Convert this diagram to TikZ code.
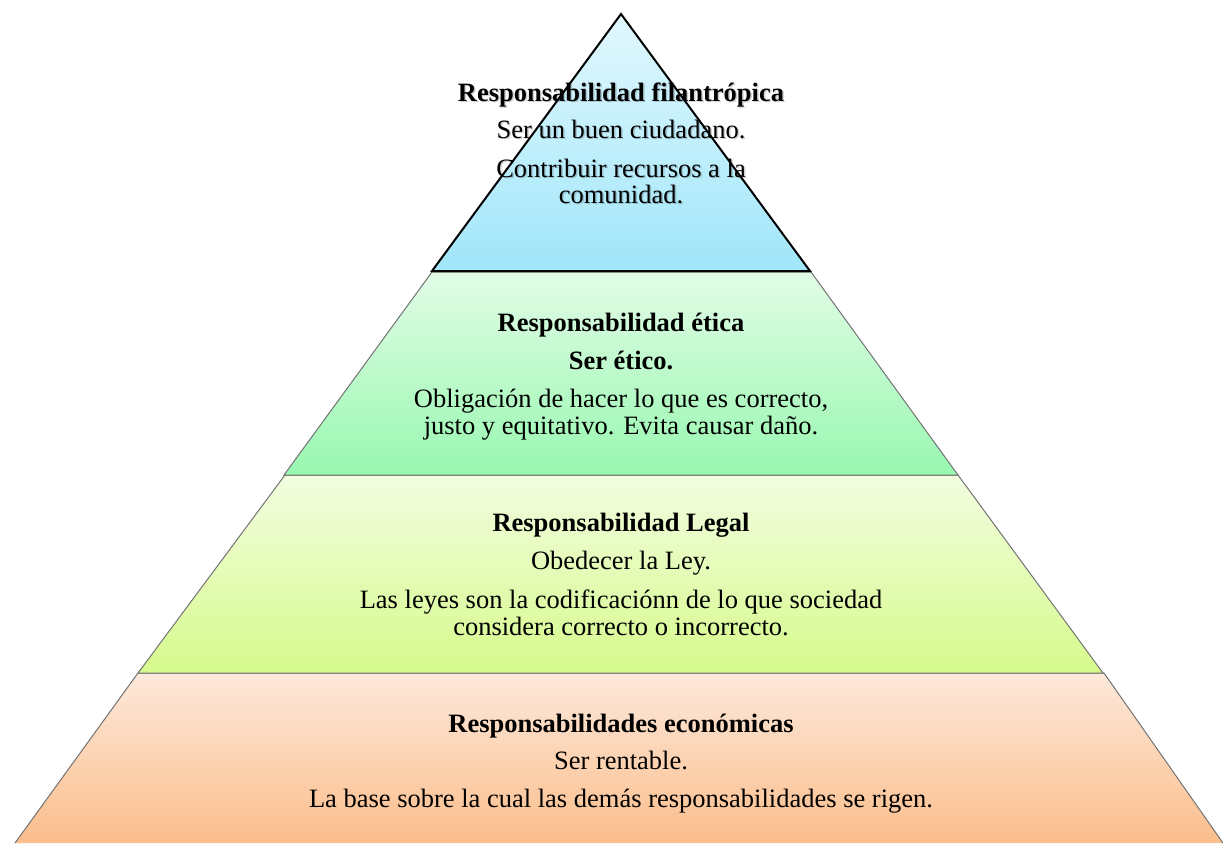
\documentclass[tikz,border=0pt]{standalone}
\usepackage{fontspec}
\setmainfont{Liberation Serif}
\begin{document}
\begin{tikzpicture}[x=1pt,y=-1pt,
  txt/.style={anchor=base,inner sep=0pt,font=\fontsize{26.5}{30}\selectfont,text=black},
  btxt/.style={txt,font=\fontsize{26.5}{30}\selectfont\bfseries},
  shad/.style={text=black,text opacity=0.18,xshift=1.5pt,yshift=-1.5pt},
  bandline/.style={draw=black!55,line width=1pt,line join=miter},
  topline/.style={draw=black,line width=2pt,line join=miter}]
\useasboundingbox (0,0) rectangle (1223,843);
\definecolor{blueT}{HTML}{E2F8FE}\definecolor{blueB}{HTML}{A0E6FA}
\definecolor{greenT}{HTML}{E2FCE6}\definecolor{greenB}{HTML}{98F8B0}
\definecolor{limeT}{HTML}{F2FDE0}\definecolor{limeB}{HTML}{D6FA8C}
\definecolor{peachT}{HTML}{FDE8DA}\definecolor{peachB}{HTML}{FBBE8C}
% bands
\shade[top color=peachT,bottom color=peachB] (138,673) -- (1104,673) -- (1223,843) -- (15,843) -- cycle;
\draw[bandline] (15,843) -- (138,673) -- (1104,673) -- (1223,843);
\shade[top color=limeT,bottom color=limeB] (285,475) -- (958,475) -- (1103,673) -- (138,673) -- cycle;
\draw[bandline] (285,475) -- (958,475) -- (1103,673) -- (138,673) -- cycle;
\shade[top color=greenT,bottom color=greenB] (432,272) -- (811,272) -- (958,475) -- (284,475) -- cycle;
\draw[bandline] (432,272) -- (811,272) -- (958,475) -- (284,475) -- cycle;
\shade[top color=blueT,bottom color=blueB] (621,14) -- (810,271) -- (432,271) -- cycle;
% top texts (with soft shadow)
\node[btxt,shad] (f1s) at (621,101) {Responsabilidad filantrópica};
\node[txt,shad] (f2s) at (621,138) {Ser un buen ciudadano.};
\node[txt,shad] (f3s) at (621,177) {Contribuir recursos a la};
\node[txt,shad] (f4s) at (621,203) {comunidad.};
\node[btxt] (f1) at (621,101) {Responsabilidad filantrópica};
\node[txt] (f2) at (621,138) {Ser un buen ciudadano.};
\node[txt] (f3) at (621,177) {Contribuir recursos a la};
\node[txt] (f4) at (621,203) {comunidad.};
% ethical
\node[btxt] (e1) at (621,331) {Responsabilidad ética};
\node[btxt] (e2) at (621,369) {Ser ético.};
\node[txt] (e3) at (621,407) {Obligación de hacer lo que es correcto,};
\node[txt] (e4) at (621,434) {justo y equitativo. Evita causar daño.};
% legal
\node[btxt] (l1) at (621,531) {Responsabilidad Legal};
\node[txt] (l2) at (621,569) {Obedecer la Ley.};
\node[txt] (l3) at (621,608) {Las leyes son la codificaciónn de lo que sociedad};
\node[txt] (l4) at (621,635) {considera correcto o incorrecto.};
% economic
\node[btxt] (c1) at (621,732) {Responsabilidades económicas};
\node[txt] (c2) at (621,769) {Ser rentable.};
\node[txt] (c3) at (621,807) {La base sobre la cual las demás responsabilidades se rigen.};
% top outline over text
\draw[topline] (621,14) -- (810,271) -- (432,271) -- cycle;
\end{tikzpicture}
\end{document}
